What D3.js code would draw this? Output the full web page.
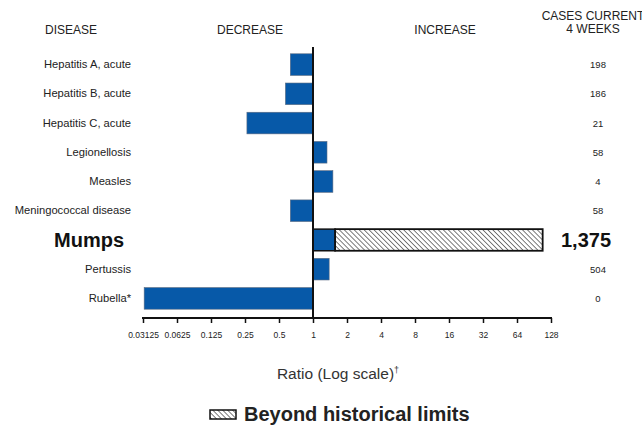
<!DOCTYPE html>
<html>
<head>
<meta charset="utf-8">
<style>
body { margin: 0; background: #fff; }
svg text { font-family: "Liberation Sans", Arial, sans-serif; fill: #222; }
.hdr { font-size: 12px; }
.lbl { font-size: 11.2px; }
.cnt { font-size: 9.5px; }
.big { font-size: 20px; font-weight: bold; fill: #111; }
.tick text { font-size: 8.5px; }
</style>
</head>
<body>
<svg id="chart" width="642" height="426"></svg>
<script src="https://d3js.org/d3.v7.min.js"></script>
<script>

var diseases = ["Hepatitis A, acute", "Hepatitis B, acute", "Hepatitis C, acute",
                "Legionellosis", "Measles", "Meningococcal disease",
                "Mumps", "Pertussis", "Rubella*"];
// ratio of current 4 weeks to historical baseline
var ratios = [0.63, 0.57, 0.26, 1.33, 1.50, 0.63, 108, 1.39, 0.032];
// upper historical limit, only where the ratio goes beyond it
var limits = [null, null, null, null, null, null, 1.57, null, null];
var cases = ["198", "186", "21", "58", "4", "58", "1,375", "504", "0"];
var tickVals = [0.03125, 0.0625, 0.125, 0.25, 0.5, 1, 2, 4, 8, 16, 32, 64, 128];
var highlight = "Mumps";

var svg = d3.select("#chart");

var defs = svg.append("defs");
var pat = defs.append("pattern")
    .attr("id", "hatch")
    .attr("patternUnits", "userSpaceOnUse")
    .attr("width", 3.5)
    .attr("height", 3.5)
    .attr("patternTransform", "rotate(-45)");
pat.append("rect").attr("width", 3.5).attr("height", 3.5).attr("fill", "#fff");
pat.append("line")
    .attr("x1", 0).attr("y1", 0).attr("x2", 0).attr("y2", 3.5)
    .attr("stroke", "#444").attr("stroke-width", 1.4);

var x = d3.scaleLog().base(2)
    .domain([0.03125, 128])
    .range([143, 551]);

var y = d3.scaleBand()
    .domain(diseases)
    .range([50, 313])
    .paddingInner(0.26)
    .paddingOuter(0.13);

// headers
svg.append("text").attr("class", "hdr").attr("x", 45).attr("y", 34).text("DISEASE");
svg.append("text").attr("class", "hdr").attr("x", 250).attr("y", 34)
   .attr("text-anchor", "middle").text("DECREASE");
svg.append("text").attr("class", "hdr").attr("x", 445).attr("y", 34)
   .attr("text-anchor", "middle").text("INCREASE");
svg.append("text").attr("class", "hdr").attr("x", 593).attr("y", 20)
   .attr("text-anchor", "middle").text("CASES CURRENT");
svg.append("text").attr("class", "hdr").attr("x", 593).attr("y", 33)
   .attr("text-anchor", "middle").text("4 WEEKS");

var rows = diseases.map(function(d, i) {
  return {name: d, ratio: ratios[i], limit: limits[i], cases: cases[i]};
});

// blue part of each bar (up to the limit, if one)
svg.selectAll(".bar")
   .data(rows)
   .enter().append("rect")
   .attr("class", "bar")
   .attr("x", function(d) {
     var r = d.limit ? d.limit : d.ratio;
     return Math.min(x(1), x(r));
   })
   .attr("y", function(d) { return y(d.name); })
   .attr("width", function(d) {
     var r = d.limit ? d.limit : d.ratio;
     return Math.abs(x(r) - x(1));
   })
   .attr("height", y.bandwidth())
   .attr("fill", "#0759a8")
   .attr("stroke", function(d) { return d.limit ? "#111" : "#5a6a80"; })
   .attr("stroke-width", function(d) { return d.limit ? 1.5 : 0.6; });

// hatched part beyond historical limits
svg.selectAll(".beyond")
   .data(rows.filter(function(d) { return d.limit; }))
   .enter().append("rect")
   .attr("class", "beyond")
   .attr("x", function(d) { return x(d.limit); })
   .attr("y", function(d) { return y(d.name); })
   .attr("width", function(d) { return x(d.ratio) - x(d.limit); })
   .attr("height", y.bandwidth())
   .attr("fill", "url(#hatch)")
   .attr("stroke", "#111")
   .attr("stroke-width", 1.8);

// baseline at ratio 1
svg.append("line")
   .attr("x1", x(1)).attr("x2", x(1))
   .attr("y1", 47).attr("y2", 318)
   .attr("stroke", "#111").attr("stroke-width", 2);

// disease labels
svg.selectAll(".lbl")
   .data(rows)
   .enter().append("text")
   .attr("class", function(d) { return d.name == highlight ? "big" : "lbl"; })
   .attr("text-anchor", "end")
   .attr("x", function(d) { return d.name == highlight ? 124 : 131; })
   .attr("y", function(d) {
     return y(d.name) + y.bandwidth() / 2 + (d.name == highlight ? 7.5 : 3.5);
   })
   .text(function(d) { return d.name; });

// case counts
svg.selectAll(".cnt")
   .data(rows)
   .enter().append("text")
   .attr("class", function(d) { return d.name == highlight ? "big" : "cnt"; })
   .attr("text-anchor", "middle")
   .attr("x", function(d) { return d.name == highlight ? 586 : 598; })
   .attr("y", function(d) {
     return y(d.name) + y.bandwidth() / 2 + (d.name == highlight ? 7.5 : 3.5);
   })
   .text(function(d) { return d.cases; });

// x axis
var ax = svg.append("g")
   .attr("transform", "translate(0,318)")
   .call(d3.axisBottom(x)
     .tickValues(tickVals)
     .tickFormat(function(d) { return String(d); })
     .tickSize(5)
     .tickPadding(9));
ax.select(".domain").attr("stroke", "#111").attr("stroke-width", 2)
  .attr("d", "M" + (x(0.03125) - 1) + ",0H" + (x(128) + 1));
ax.selectAll(".tick line").attr("stroke", "#111").attr("stroke-width", 1.5);
ax.selectAll(".tick text").attr("fill", "#222")
  .style("font-family", "'Liberation Sans', Arial, sans-serif");

// axis title
var t = svg.append("text")
   .attr("x", 338).attr("y", 379)
   .attr("text-anchor", "middle")
   .style("font-size", "15.5px")
   .style("fill", "#333");
t.append("tspan").text("Ratio (Log scale)");
t.append("tspan").attr("dy", -6).style("font-size", "9px").text("\u2020");

// legend
svg.append("rect")
   .attr("x", 210).attr("y", 410)
   .attr("width", 26).attr("height", 9)
   .attr("fill", "url(#hatch)")
   .attr("stroke", "#111").attr("stroke-width", 1.5);
svg.append("text")
   .attr("x", 244).attr("y", 421)
   .style("font-size", "20px").style("font-weight", "bold").style("fill", "#222")
   .text("Beyond historical limits");

</script>
</body>
</html>
